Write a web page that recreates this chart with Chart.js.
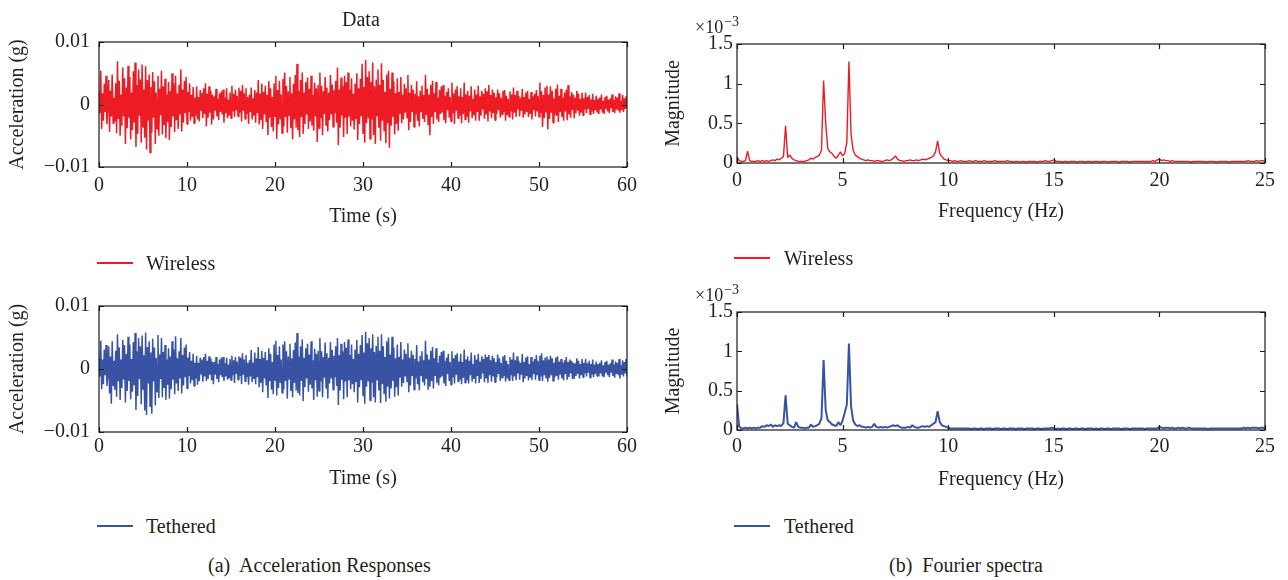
<!DOCTYPE html>
<html>
<head>
<meta charset="utf-8">
<title>Acceleration responses and Fourier spectra</title>
<script src="https://cdn.jsdelivr.net/npm/chart.js@4.4.1/dist/chart.umd.min.js"></script>
<style>
  body { margin: 0; background: #fff; }
  #page { position: relative; width: 1288px; height: 580px; overflow: hidden;
          font-family: "Liberation Serif", "Times New Roman", serif; color: #231f20; }
  #page canvas { position: absolute; }
  .lbl { position: absolute; font-size: 20px; line-height: 24px; white-space: nowrap; }
  .key { position: absolute; width: 36px; height: 2px; }
  .mult { position: absolute; font-size: 18px; line-height: 20px; white-space: nowrap; }
  .mult span { font-size: 14px; position: relative; top: -7px; margin-left: 1px; }
</style>
</head>
<body>
<div id="page">
  <canvas id="accWireless" width="660" height="240" style="left:0;top:0"></canvas>
  <canvas id="accTethered" width="660" height="240" style="left:0;top:260px"></canvas>
  <canvas id="fftWireless" width="648" height="240" style="left:640px;top:0"></canvas>
  <canvas id="fftTethered" width="648" height="240" style="left:640px;top:260px"></canvas>

  <div class="lbl" style="left:342px;top:7px">Data</div>
  <div class="mult" style="left:695px;top:17px">×10<span>−3</span></div>
  <div class="mult" style="left:695px;top:285px">×10<span>−3</span></div>

  <div class="key" style="left:97px;top:262px;background:#ed1c24"></div>
  <div class="lbl" style="left:146px;top:251px">Wireless</div>
  <div class="key" style="left:734px;top:257px;background:#ed1c24"></div>
  <div class="lbl" style="left:784px;top:246px">Wireless</div>
  <div class="key" style="left:97px;top:525px;background:#3953a4"></div>
  <div class="lbl" style="left:146px;top:514px">Tethered</div>
  <div class="key" style="left:734px;top:525px;background:#3953a4"></div>
  <div class="lbl" style="left:784px;top:514px">Tethered</div>

  <div class="lbl" style="left:208px;top:553px">(a)&nbsp; Acceleration Responses</div>
  <div class="lbl" style="left:889px;top:553px">(b)&nbsp; Fourier spectra</div>
</div>

<script>
// time histories, one sample every 0.1 s (one row = one second), in units of 10^-3 g
const timeStep = 0.1;
const accWireless = [
  2.1,-1.4,5.4,-3.9,1.8,-2.6,3.3,-1.2,4.6,-3.1,
  -0.8,3.9,-4.4,2.2,-1.9,4.8,-3.0,1.1,-2.7,3.4,
  -4.6,6.9,-2.3,3.8,-5.0,1.6,-3.4,5.9,-1.9,4.2,
  -6.3,2.7,-3.8,6.2,-2.1,4.4,-5.6,1.9,-4.1,5.3,
  -2.9,6.7,-6.8,3.1,-4.7,5.6,-1.8,4.0,-6.1,6.4,
  -3.6,2.4,-5.3,6.1,-7.2,3.9,-2.6,4.8,-7.7,2.8,
  -4.5,5.2,-2.1,3.7,-6.3,1.9,-3.9,4.6,-5.0,2.5,
  -1.7,5.4,-4.8,2.9,-3.3,4.1,-5.4,1.6,-2.8,3.6,
  -5.7,2.2,-3.6,5.0,-1.9,3.4,-4.4,4.6,-2.5,1.8,
  -3.9,3.1,-1.6,5.6,-4.3,2.4,-2.9,3.8,-1.4,4.4,
  -3.1,2.0,-1.2,3.4,-2.6,1.5,-2.0,2.8,-3.0,1.1,
  -1.8,2.9,-2.4,1.2,-2.7,2.3,-0.9,1.9,-2.2,2.6,
  -1.5,3.4,-3.5,1.7,-2.1,2.9,-1.3,2.2,-3.2,1.6,
  -2.4,1.3,-1.0,2.5,-1.9,0.9,-2.5,1.8,-1.2,2.1,
  -1.6,2.4,-2.9,1.1,-1.4,2.6,-2.2,0.8,-1.8,1.9,
  -2.2,3.0,-1.1,1.7,-2.0,2.4,-0.9,1.4,-1.9,2.7,
  -1.3,2.2,-2.7,3.1,-1.0,1.8,-2.3,2.6,-1.5,1.2,
  -3.1,1.6,-1.2,2.7,-2.4,1.0,-1.8,2.3,-2.9,1.9,
  -1.4,3.9,-3.2,1.7,-2.5,3.3,-3.9,2.0,-1.6,3.0,
  -2.8,1.5,-4.9,3.7,-2.1,2.6,-3.6,1.2,-4.3,3.4,
  -1.9,4.6,-5.5,2.3,-3.2,3.8,-2.4,1.6,-4.6,4.1,
  -3.5,5.1,-2.0,3.0,-4.5,2.1,-1.7,4.4,-3.8,1.8,
  -5.6,3.3,-2.4,4.7,-3.7,6.5,-4.1,2.2,-5.2,3.9,
  -2.0,5.1,-4.7,1.9,-3.1,3.6,-1.6,4.3,-3.9,2.5,
  -2.7,4.6,-3.4,1.5,-4.2,3.5,-1.9,2.6,-6.0,3.1,
  -3.8,5.1,-2.2,3.0,-4.9,2.1,-1.5,4.4,-3.3,2.7,
  -4.3,1.9,-2.5,4.7,-1.6,3.2,-3.6,2.3,-1.4,3.8,
  -2.9,5.9,-6.5,2.4,-3.7,4.3,-1.8,3.0,-5.2,4.6,
  -2.1,3.6,-4.7,5.1,-1.9,2.4,-3.5,4.2,-2.6,1.7,
  -4.0,3.3,-2.3,5.0,-5.7,2.6,-3.1,4.1,-1.9,6.5,
  -4.6,2.8,-6.1,7.1,-3.0,4.4,-2.2,5.3,-5.5,3.6,
  -2.4,6.7,-4.9,2.9,-6.3,4.0,-1.8,5.6,-3.7,3.1,
  -5.8,6.6,-2.6,3.9,-4.3,2.0,-6.2,4.8,-3.0,5.4,
  -6.9,2.5,-3.4,5.1,-2.0,3.7,-4.8,1.8,-3.1,4.2,
  -4.2,2.0,-1.5,4.4,-3.0,1.6,-2.4,3.3,-1.3,2.6,
  -2.1,4.7,-4.1,1.9,-2.8,3.1,-1.2,2.4,-3.6,1.7,
  -1.6,3.7,-2.6,1.3,-3.5,2.2,-1.1,3.0,-2.3,1.5,
  -2.8,4.7,-1.7,2.5,-3.3,1.6,-4.9,3.1,-2.0,3.8,
  -3.1,1.8,-1.2,3.6,-2.4,1.1,-2.8,2.3,-1.5,2.9,
  -1.3,3.1,-2.5,1.4,-3.0,2.0,-0.9,2.6,-2.1,1.2,
  -2.7,3.5,-1.4,1.8,-3.1,2.4,-1.0,2.9,-2.2,1.3,
  -1.8,2.6,-3.0,1.2,-1.5,3.5,-2.4,1.6,-2.0,2.2,
  -2.9,1.4,-1.1,2.9,-2.2,0.9,-1.7,2.4,-2.6,1.6,
  -1.2,3.0,-2.6,1.3,-1.8,2.2,-0.8,1.7,-2.3,2.6,
  -1.6,2.1,-2.7,3.1,-1.1,1.5,-2.2,2.4,-1.4,1.9,
  -2.5,1.2,-1.5,2.4,-0.9,1.8,-2.1,1.1,-1.6,2.2,
  -1.2,2.3,-2.6,1.4,-1.7,0.9,-2.0,2.1,-1.1,1.6,
  -2.4,2.7,-1.3,1.5,-2.0,2.2,-0.8,1.4,-1.9,1.1,
  -1.0,2.5,-2.1,1.2,-1.6,1.9,-1.2,2.2,-2.0,0.9,
  -1.5,2.0,-2.4,1.3,-0.9,1.7,-1.9,2.3,-1.1,1.4,
  -2.0,3.5,-1.4,2.1,-3.6,1.5,-2.2,2.7,-1.2,3.0,
  -4.0,1.6,-2.3,2.9,-1.3,2.2,-2.9,1.0,-1.7,2.5,
  -1.8,3.2,-2.8,1.4,-1.2,2.5,-2.0,1.1,-2.6,1.9,
  -1.1,2.4,-2.5,3.1,-1.6,1.3,-2.1,2.0,-0.9,1.6,
  -2.2,1.1,-1.4,2.2,-1.0,1.7,-1.8,0.9,-1.3,1.9,
  -1.7,1.0,-0.8,1.9,-1.4,1.2,-0.7,1.5,-1.6,0.8,
  -1.1,1.7,-1.5,0.7,-0.9,1.4,-1.2,0.9,-1.5,1.1,
  -0.8,1.6,-1.3,0.6,-1.5,1.2,-0.7,1.4,-1.1,0.8,
  -1.4,1.0,-0.6,1.6,-1.2,0.7,-1.4,1.3,-0.8,1.1,
  -1.0,1.8,-1.3,0.6,-0.9,1.5,-1.2,1.0,-0.7,1.3,
  -0.6
];
const accTethered = [
  1.8,-1.2,4.5,-3.2,1.5,-2.4,3.1,-1.0,3.8,-2.7,
  -1.1,3.6,-3.9,2.0,-5.5,4.4,-2.6,1.3,-3.3,2.9,
  -4.4,5.5,-2.0,3.4,-4.9,1.5,-3.0,4.6,-1.7,3.8,
  -5.3,2.4,-3.5,5.1,-1.9,3.9,-4.8,1.6,-3.6,4.3,
  -2.6,5.7,-6.5,2.8,-4.3,4.9,-1.6,3.6,-5.6,5.3,
  -3.2,2.2,-6.6,5.8,-7.3,3.5,-2.3,4.4,-5.9,2.6,
  -7.1,4.8,-2.0,3.4,-5.8,1.8,-3.6,5.4,-4.6,2.3,
  -1.6,4.9,-4.5,2.7,-3.0,3.8,-4.9,1.5,-2.5,3.3,
  -4.7,2.0,-3.2,4.4,-1.7,3.1,-4.0,5.2,-2.3,1.7,
  -3.5,2.8,-1.5,4.9,-3.9,2.2,-2.6,3.4,-1.3,3.9,
  -3.1,1.8,-1.1,2.7,-2.3,1.3,-1.8,2.4,-2.7,1.0,
  -1.5,2.1,-2.5,1.0,-1.9,1.8,-0.8,1.5,-2.0,1.9,
  -1.2,2.4,-1.9,1.3,-1.6,2.0,-0.9,1.7,-1.8,1.2,
  -2.4,1.1,-0.9,1.9,-1.6,0.8,-2.1,1.5,-1.0,1.8,
  -1.3,1.9,-1.9,0.9,-1.2,1.8,-1.7,0.7,-1.5,1.6,
  -1.8,2.1,-1.0,1.4,-2.2,1.9,-0.8,1.2,-1.7,2.0,
  -1.1,1.8,-2.4,2.5,-0.9,1.5,-2.0,2.2,-1.3,1.0,
  -2.5,1.4,-1.2,3.0,-2.1,1.0,-1.6,2.6,-2.4,1.7,
  -1.3,3.5,-2.9,1.6,-2.2,2.9,-3.7,1.8,-1.5,2.7,
  -2.6,1.4,-4.6,3.3,-1.9,2.4,-3.3,1.1,-4.0,3.9,
  -1.8,4.5,-4.2,2.2,-3.0,3.6,-2.2,1.5,-3.8,3.9,
  -3.2,4.4,-1.9,2.8,-4.7,2.0,-1.6,4.0,-3.5,1.7,
  -4.5,3.0,-2.2,4.2,-3.4,5.7,-3.8,2.0,-4.2,3.6,
  -1.9,4.7,-5.1,1.8,-2.9,3.3,-1.5,4.0,-3.6,2.3,
  -2.5,4.4,-3.1,1.4,-4.9,3.2,-1.8,2.4,-4.4,2.9,
  -3.5,4.9,-2.0,2.8,-4.5,1.9,-1.4,4.2,-3.0,2.5,
  -4.7,1.8,-2.3,4.3,-1.5,3.0,-3.3,2.1,-1.3,3.6,
  -2.7,4.9,-5.7,2.2,-3.4,4.0,-1.7,2.8,-4.8,4.3,
  -2.0,3.4,-4.5,4.7,-1.8,2.2,-3.2,3.9,-2.4,1.6,
  -3.7,3.1,-2.1,4.6,-5.3,2.4,-2.9,3.8,-1.8,5.4,
  -4.2,2.6,-5.5,5.9,-2.8,4.1,-2.0,4.9,-5.0,3.3,
  -2.2,5.5,-4.5,2.7,-5.3,3.7,-1.7,5.1,-3.4,2.9,
  -5.4,5.5,-2.4,3.6,-4.0,1.9,-5.2,4.4,-2.8,5.0,
  -4.7,2.3,-3.1,5.1,-1.9,3.4,-4.4,1.7,-2.9,3.9,
  -4.2,1.9,-1.4,4.3,-2.8,1.5,-2.2,3.1,-1.2,2.4,
  -2.0,4.1,-3.7,1.8,-2.6,2.9,-1.1,2.2,-3.3,1.6,
  -1.5,3.8,-2.4,1.2,-3.4,2.1,-1.0,2.8,-2.1,1.4,
  -2.6,4.5,-1.6,2.3,-3.3,1.5,-2.8,2.9,-1.9,3.5,
  -3.1,1.7,-1.1,3.3,-2.2,1.0,-2.6,2.1,-1.4,2.7,
  -1.2,2.9,-2.3,1.3,-2.7,1.8,-0.8,2.4,-1.9,1.1,
  -2.5,2.8,-1.3,1.7,-2.3,2.2,-0.9,2.5,-2.0,1.2,
  -1.7,2.4,-2.4,1.1,-1.4,3.1,-2.2,1.5,-1.8,2.0,
  -2.3,1.3,-1.0,2.6,-2.0,0.8,-1.6,2.2,-2.3,1.5,
  -1.1,2.4,-2.2,1.2,-1.6,2.0,-0.7,1.6,-2.1,2.3,
  -1.5,1.9,-2.2,2.2,-1.0,1.4,-2.0,2.1,-1.2,1.7,
  -2.1,1.1,-1.3,2.3,-0.8,1.7,-1.9,1.0,-1.4,2.0,
  -1.1,2.2,-2.0,1.3,-1.5,0.8,-1.8,1.9,-1.0,1.5,
  -1.9,2.6,-1.2,1.4,-1.8,2.0,-0.7,1.3,-1.7,1.0,
  -0.9,2.4,-2.1,1.1,-1.5,1.8,-1.1,2.0,-1.8,0.8,
  -1.4,1.9,-1.8,1.2,-0.8,1.6,-1.7,2.2,-1.0,1.3,
  -1.8,2.1,-1.2,2.5,-1.9,1.4,-1.0,1.8,-1.4,2.0,
  -2.0,1.5,-1.4,2.1,-1.0,1.7,-1.9,1.0,-1.3,1.8,
  -1.1,2.0,-1.7,1.2,-0.9,1.6,-1.5,1.0,-1.8,1.4,
  -0.8,1.9,-1.7,1.1,-1.3,1.5,-0.7,1.3,-1.6,1.0,
  -1.6,0.9,-1.1,1.7,-0.8,1.3,-1.5,0.8,-1.0,1.6,
  -1.3,1.0,-0.7,1.6,-1.2,0.9,-0.6,1.3,-1.4,0.8,
  -0.9,1.5,-1.3,0.7,-0.8,1.2,-1.1,0.8,-1.2,1.0,
  -0.7,1.4,-1.2,0.6,-1.3,1.1,-0.6,1.3,-1.0,0.7,
  -1.3,0.9,-0.6,1.5,-1.1,0.7,-1.4,1.2,-0.8,1.0,
  -1.0,1.6,-1.5,0.6,-0.9,1.4,-1.2,1.1,-0.7,1.6,
  -1.2
];

// Fourier magnitudes, one bin every 0.1 Hz from 0 to 25 Hz, in units of 10^-3
const freqStep = 0.1;
const fftWireless = [
  0.08,0.03,0.02,0.02,0.03,0.15,0.03,0.02,0.02,0.02,
  0.03,0.02,0.03,0.02,0.03,0.02,0.03,0.04,0.03,0.05,
  0.04,0.06,0.08,0.47,0.07,0.10,0.06,0.04,0.03,0.02,
  0.02,0.02,0.02,0.03,0.04,0.06,0.05,0.07,0.08,0.10,
  0.16,1.04,0.50,0.18,0.14,0.12,0.08,0.06,0.10,0.14,
  0.09,0.12,0.26,1.28,0.36,0.16,0.10,0.08,0.06,0.05,
  0.04,0.03,0.04,0.03,0.03,0.02,0.03,0.03,0.02,0.02,
  0.03,0.04,0.03,0.04,0.06,0.09,0.05,0.03,0.03,0.02,
  0.03,0.03,0.04,0.03,0.03,0.04,0.03,0.04,0.05,0.04,
  0.05,0.06,0.07,0.09,0.14,0.28,0.12,0.08,0.05,0.04,
  0.03,0.03,0.02,0.03,0.02,0.02,0.03,0.02,0.02,0.02,
  0.03,0.02,0.02,0.03,0.02,0.02,0.02,0.03,0.02,0.02,
  0.02,0.02,0.03,0.02,0.02,0.02,0.02,0.02,0.03,0.02,
  0.02,0.01,0.02,0.02,0.01,0.02,0.02,0.01,0.02,0.02,
  0.02,0.02,0.01,0.02,0.02,0.02,0.03,0.02,0.02,0.03,
  0.04,0.02,0.02,0.02,0.01,0.02,0.02,0.01,0.02,0.02,
  0.02,0.01,0.02,0.02,0.02,0.01,0.02,0.02,0.01,0.02,
  0.02,0.02,0.01,0.02,0.02,0.02,0.01,0.02,0.02,0.02,
  0.02,0.01,0.02,0.02,0.02,0.02,0.01,0.02,0.02,0.02,
  0.02,0.02,0.02,0.02,0.02,0.02,0.02,0.03,0.02,0.04,
  0.05,0.03,0.04,0.03,0.03,0.02,0.03,0.02,0.02,0.02,
  0.02,0.02,0.02,0.02,0.02,0.01,0.02,0.02,0.02,0.02,
  0.02,0.02,0.01,0.02,0.02,0.02,0.02,0.01,0.02,0.02,
  0.02,0.02,0.02,0.01,0.02,0.02,0.02,0.02,0.02,0.02,
  0.02,0.02,0.03,0.02,0.02,0.02,0.03,0.02,0.03,0.03,
  0.02
];
const fftTethered = [
  0.33,0.05,0.02,0.02,0.03,0.02,0.03,0.02,0.03,0.02,
  0.03,0.03,0.05,0.04,0.06,0.05,0.07,0.04,0.06,0.05,
  0.06,0.05,0.09,0.44,0.08,0.06,0.04,0.03,0.10,0.04,
  0.03,0.03,0.02,0.03,0.03,0.07,0.04,0.05,0.06,0.08,
  0.15,0.89,0.25,0.12,0.10,0.07,0.06,0.05,0.10,0.06,
  0.12,0.22,0.32,1.10,0.30,0.12,0.07,0.05,0.06,0.04,
  0.04,0.03,0.04,0.03,0.04,0.08,0.04,0.03,0.04,0.03,
  0.04,0.03,0.04,0.05,0.06,0.05,0.06,0.04,0.03,0.03,
  0.03,0.04,0.03,0.06,0.04,0.03,0.03,0.04,0.05,0.04,
  0.05,0.04,0.06,0.08,0.10,0.24,0.10,0.06,0.05,0.04,
  0.03,0.02,0.02,0.02,0.02,0.02,0.02,0.02,0.02,0.02,
  0.02,0.01,0.02,0.02,0.01,0.02,0.02,0.01,0.02,0.02,
  0.02,0.01,0.02,0.02,0.02,0.01,0.02,0.02,0.01,0.02,
  0.02,0.02,0.01,0.02,0.02,0.02,0.01,0.02,0.02,0.02,
  0.02,0.01,0.02,0.02,0.01,0.02,0.02,0.02,0.02,0.03,
  0.02,0.01,0.02,0.01,0.02,0.02,0.01,0.02,0.02,0.01,
  0.02,0.02,0.01,0.02,0.02,0.01,0.02,0.02,0.02,0.01,
  0.02,0.01,0.02,0.02,0.01,0.02,0.02,0.01,0.02,0.02,
  0.02,0.02,0.01,0.02,0.02,0.02,0.01,0.02,0.02,0.02,
  0.02,0.02,0.02,0.01,0.02,0.02,0.02,0.02,0.02,0.02,
  0.04,0.03,0.02,0.03,0.03,0.02,0.03,0.02,0.02,0.03,
  0.02,0.03,0.02,0.02,0.03,0.02,0.02,0.02,0.02,0.02,
  0.02,0.02,0.02,0.01,0.02,0.02,0.02,0.02,0.02,0.02,
  0.02,0.02,0.02,0.02,0.02,0.02,0.02,0.02,0.02,0.02,
  0.03,0.02,0.03,0.02,0.03,0.03,0.03,0.02,0.03,0.03,
  0.02
];

// tick labels
const accTicks = [-10, 0, 10];
const accTickLabels = ['\u22120.01', '0', '0.01'];
const magTicks = [0, 0.5, 1, 1.5];
const magTickLabels = ['0', '0.5', '1', '1.5'];

const RED = '#ed1c24';
const BLUE = '#3953a4';
const FONT = '"Liberation Serif", "Times New Roman", serif';
const INK = '#231f20';

// MATLAB style box with ticks pointing inwards
const innerFrame = {
    id: 'innerFrame',
    afterDatasetsDraw(chart) {
        const { ctx, chartArea: a, scales: { x, y } } = chart;
        const len = 5;
        ctx.save();
        ctx.strokeStyle = '#1a1a1a';
        ctx.lineWidth = 1.2;
        ctx.beginPath();
        x.ticks.forEach(t => {
            const px = Math.round(x.getPixelForValue(t.value)) + 0.5;
            ctx.moveTo(px, a.bottom); ctx.lineTo(px, a.bottom - len);
            ctx.moveTo(px, a.top); ctx.lineTo(px, a.top + len);
        });
        y.ticks.forEach(t => {
            const py = Math.round(y.getPixelForValue(t.value)) + 0.5;
            ctx.moveTo(a.left, py); ctx.lineTo(a.left + len, py);
            ctx.moveTo(a.right, py); ctx.lineTo(a.right - len, py);
        });
        ctx.stroke();
        ctx.strokeRect(a.left, a.top, a.right - a.left, a.bottom - a.top);
        ctx.restore();
    }
};

// box: canvas rect on the page, plot: wanted plot rect on the page
function panel(id, box, plot, p) {
    const font = { family: FONT, size: 20 };
    const points = p.values.map((v, i) => ({ x: i * p.step, y: v }));
    return new Chart(document.getElementById(id), {
        type: 'line',
        data: {
            datasets: [{
                data: points,
                borderColor: p.color,
                borderWidth: p.lineWidth,
                pointRadius: 0,
                fill: false,
                tension: 0,
                borderJoinStyle: 'bevel'
            }]
        },
        options: {
            responsive: false,
            animation: false,
            devicePixelRatio: 1,
            layout: {
                padding: { left: 0, bottom: 0, top: plot.t - box.y, right: box.x + box.w - plot.r }
            },
            plugins: { legend: { display: false }, tooltip: { enabled: false } },
            scales: {
                x: {
                    type: 'linear',
                    min: p.xMin, max: p.xMax,
                    grid: { display: false, drawTicks: false },
                    border: { display: false },
                    ticks: { stepSize: p.xStep, autoSkip: false, maxRotation: 0, padding: p.xPad, color: INK, font },
                    title: {
                        display: true, text: p.xTitle, color: INK, font,
                        padding: { top: 0, bottom: box.y + box.h - p.xTitleY - 12 }
                    },
                    afterFit: s => { s.height = box.y + box.h - plot.b; }
                },
                y: {
                    type: 'linear',
                    min: p.yMin, max: p.yMax,
                    grid: { display: false, drawTicks: false },
                    border: { display: false },
                    ticks: {
                        stepSize: p.yStep, padding: p.yPad, color: INK, font,
                        callback: v => p.yLabels[p.yTicks.indexOf(v)]
                    },
                    title: {
                        display: true, text: p.yTitle, color: INK, font,
                        padding: { top: p.yTitleX - box.x - 12, bottom: 0 }
                    },
                    afterFit: s => { s.width = plot.l - box.x; }
                }
            }
        },
        plugins: [innerFrame]
    });
}

const accCommon = {
    step: timeStep, lineWidth: 1.5,
    xMin: 0, xMax: 60, xStep: 10, xTitle: 'Time (s)',
    yMin: -10, yMax: 10, yStep: 10, yTicks: accTicks, yLabels: accTickLabels,
    yTitle: 'Acceleration (g)', yTitleX: 18, yPad: 9
};
const fftCommon = {
    step: freqStep,
    xMin: 0, xMax: 25, xStep: 5, xTitle: 'Frequency (Hz)',
    yMin: 0, yMax: 1.5, yStep: 0.5, yTicks: magTicks, yLabels: magTickLabels,
    yTitle: 'Magnitude', yTitleX: 674, yPad: 4
};

panel('accWireless', { x: 0, y: 0, w: 660, h: 240 }, { l: 99, t: 42, r: 627, b: 167 },
    Object.assign({}, accCommon, { values: accWireless, color: RED, xPad: 7, xTitleY: 217 }));
panel('accTethered', { x: 0, y: 260, w: 660, h: 240 }, { l: 99, t: 306, r: 627, b: 432 },
    Object.assign({}, accCommon, { values: accTethered, color: BLUE, xPad: 3, xTitleY: 479 }));
panel('fftWireless', { x: 640, y: 0, w: 648, h: 240 }, { l: 737, t: 44, r: 1265, b: 163 },
    Object.assign({}, fftCommon, { values: fftWireless, color: RED, lineWidth: 1.4, xPad: 6, xTitleY: 212 }));
panel('fftTethered', { x: 640, y: 260, w: 648, h: 240 }, { l: 737, t: 312, r: 1265, b: 430 },
    Object.assign({}, fftCommon, { values: fftTethered, color: BLUE, lineWidth: 2, xPad: 5, xTitleY: 480 }));
</script>
</body>
</html>
